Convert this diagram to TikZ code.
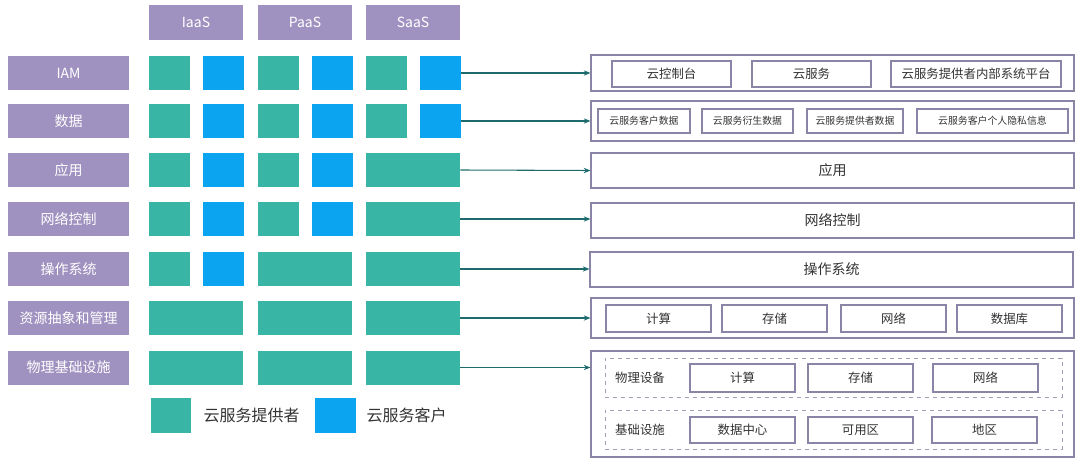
\documentclass[tikz,border=0pt]{standalone}
\usepackage{fontspec}
\setmainfont{Noto Sans CJK SC}
\usepackage{tikz}
\usetikzlibrary{arrows.meta}
\usetikzlibrary{positioning}
\definecolor{lyrpurple}{HTML}{A092C0}
\definecolor{provgreen}{HTML}{38B5A5}
\definecolor{custblue}{HTML}{0AA4F0}
\definecolor{framegray}{HTML}{8A84A6}
\definecolor{linkteal}{HTML}{1E6B6E}
\definecolor{txtgray}{HTML}{333333}
\tikzstyle{hdr}=[rectangle, fill=lyrpurple, text=white, inner sep=0pt,
		minimum width=70.5pt, minimum height=26.25pt, font=\fontsize{10.5}{12}\selectfont]
\tikzstyle{lyr}=[rectangle, fill=lyrpurple, text=white, inner sep=0pt,
		minimum width=90.75pt, minimum height=25.5pt, font=\fontsize{10.5}{12}\selectfont]
\tikzstyle{prv}=[rectangle, fill=provgreen, inner sep=0pt,
		minimum width=30.75pt, minimum height=25.5pt]
\tikzstyle{cst}=[prv, fill=custblue]
\tikzstyle{prvwide}=[prv, minimum width=70.5pt]
\tikzstyle{frame}=[rectangle, draw=framegray, line width=0.9pt, fill=white, inner sep=0pt,
		minimum width=362.25pt, minimum height=26.25pt, text=txtgray,
		font=\fontsize{10.5}{12}\selectfont]
\tikzstyle{part}=[rectangle, draw=framegray, line width=0.9pt, inner sep=0pt,
		minimum height=19.5pt, text=txtgray, font=\fontsize{9.3}{11}\selectfont]
\tikzstyle{datapart}=[part, minimum height=18pt, font=\fontsize{7.4}{9}\selectfont]
\tikzstyle{grp}=[rectangle, draw=framegray!80, dashed, line width=0.6pt, inner sep=0pt,
		minimum width=342.75pt, minimum height=29.25pt]
\tikzstyle{feed}=[-{Stealth[length=5pt,width=4pt]}, draw=linkteal, line width=0.8pt]

\begin{document}
\begin{tikzpicture}[x=0.75pt,y=-0.75pt]
    \useasboundingbox (0,0) rectangle (1080,463);

    % service models
    \node (IaaS) [hdr] at (196,22.5) {IaaS};
    \node (PaaS) [hdr] at (305,22.5) {PaaS};
    \node (SaaS) [hdr] at (413,22.5) {SaaS};

    % layers
    \node (IAM) [lyr] at (68.5,73) {IAM};
    \node (Data) [lyr] at (68.5,121) {数据};
    \node (App) [lyr] at (68.5,170) {应用};
    \node (Net) [lyr] at (68.5,219) {网络控制};
    \node (OS) [lyr] at (68.5,269) {操作系统};
    \node (Res) [lyr] at (68.5,318) {资源抽象和管理};
    \node (Phy) [lyr] at (68.5,367.5) {物理基础设施};

    % responsibility squares
    \foreach \x/\s [count=\i] in {169.5/prv,223/cst,278.5/prv,332/cst,386.5/prv,440/cst}
      \node (IAM\i) [\s] at (\x,73) {};
    \foreach \x/\s [count=\i] in {169.5/prv,223/cst,278.5/prv,332/cst,386.5/prv,440/cst}
      \node (Data\i) [\s] at (\x,121) {};
    \foreach \x/\s [count=\i] in {169.5/prv,223/cst,278.5/prv,332/cst,413/prvwide}
      \node (App\i) [\s] at (\x,170) {};
    \foreach \x/\s [count=\i] in {169.5/prv,223/cst,278.5/prv,332/cst,413/prvwide}
      \node (Net\i) [\s] at (\x,219) {};
    \foreach \x/\s [count=\i] in {169.5/prv,223/cst,305/prvwide,413/prvwide}
      \node (OS\i) [\s] at (\x,269) {};
    \foreach \x [count=\i] in {196,305,413}
      \node (Res\i) [prvwide] at (\x,318) {};
    \foreach \x [count=\i] in {196,305,413}
      \node (Phy\i) [prvwide] at (\x,367.5) {};

    % legend
    \node (KeyP) [prv, minimum width=30pt, minimum height=26.25pt] at (171,415.5) {};
    \node (KeyPText) [right=9pt of KeyP, inner sep=0pt, text=txtgray,
    		font=\fontsize{12}{14}\selectfont] {云服务提供者};
    \node (KeyC) [cst, minimum width=30.75pt, minimum height=26.25pt] at (335.5,415.5) {};
    \node (KeyCText) [right=7.5pt of KeyC, inner sep=0pt, text=txtgray,
    		font=\fontsize{12}{14}\selectfont] {云服务客户};

    % IAM
    \node (IAMBox) [frame, minimum height=27pt] at (832.5,73) {};
    \node (Console) [part, minimum width=89.25pt] at (671.5,74) {云控制台};
    \node (Service) [part, minimum width=89.25pt] at (811.5,74) {云服务};
    \node (Platform) [part, minimum width=127.5pt] at (976,74) {云服务提供者内部系统平台};

    % data
    \node (DataBox) [frame, minimum height=30pt] at (832.5,121) {};
    \node (CustData) [datapart, minimum width=69pt] at (644,121) {云服务客户数据};
    \node (DerivData) [datapart, minimum width=68.25pt] at (747.5,121) {云服务衍生数据};
    \node (ProvData) [datapart, minimum width=72pt] at (855,121) {云服务提供者数据};
    \node (PrivData) [datapart, minimum width=113.25pt] at (992.5,121) {云服务客户个人隐私信息};

    \node (AppBox) [frame] at (832.5,170.5) {应用};
    \node (NetBox) [frame] at (832.5,220.5) {网络控制};
    \node (OSBox) [frame] at (831.5,269.5) {操作系统};

    % resources
    \node (ResBox) [frame, minimum height=30pt] at (832.5,318) {};
    \node (Compute) [part, minimum width=78.75pt, minimum height=20.25pt] at (658.5,318.5) {计算};
    \node (Storage) [part, minimum width=78.75pt, minimum height=20.25pt] at (774.5,318.5) {存储};
    \node (Network) [part, minimum width=78.75pt, minimum height=20.25pt] at (893.5,318.5) {网络};
    \node (Database) [part, minimum width=78.75pt, minimum height=20.25pt] at (1009.5,318.5) {数据库};

    % physical infrastructure
    \node (PhyBox) [frame, minimum height=79.5pt] at (832.5,404) {};
    \node (Devices) [grp] at (833.5,377.5) {};
    \node (DevLabel) [text=txtgray, font=\fontsize{9.3}{11}\selectfont] at (640,378) {物理设备};
    \node (DevCompute) [part, minimum width=78.75pt, minimum height=21pt] at (742.5,378) {计算};
    \node (DevStorage) [part, minimum width=78.75pt, minimum height=21pt] at (860.5,378) {存储};
    \node (DevNetwork) [part, minimum width=78.75pt, minimum height=21pt] at (985.5,378) {网络};
    \node (Facility) [grp] at (833.5,429.5) {};
    \node (FacLabel) [text=txtgray, font=\fontsize{9.3}{11}\selectfont] at (640,430) {基础设施};
    \node (DataCenter) [part, minimum width=78.75pt, minimum height=19.5pt] at (742.5,430) {数据中心};
    \node (Zone) [part, minimum width=78.75pt, minimum height=19.5pt] at (860.5,430) {可用区};
    \node (Region) [part, minimum width=78.75pt, minimum height=19.5pt] at (984.5,430) {地区};

    % links
    \draw [feed] (IAM6.east) -- (IAMBox.west);
    \draw [feed] (Data6.east) -- (DataBox.west);
    \draw [feed] (App5.east) -- (AppBox.west);
    \draw [feed] (Net5.east) -- (Net5.east -| NetBox.west);
    \draw [feed] (OS4.east) -- (OS4.east -| OSBox.west);
    \draw [feed] (Res3.east) -- (ResBox.west);
    \draw [feed] (Phy3.east) -- (Phy3.east -| PhyBox.west);

\end{tikzpicture}
\end{document}
